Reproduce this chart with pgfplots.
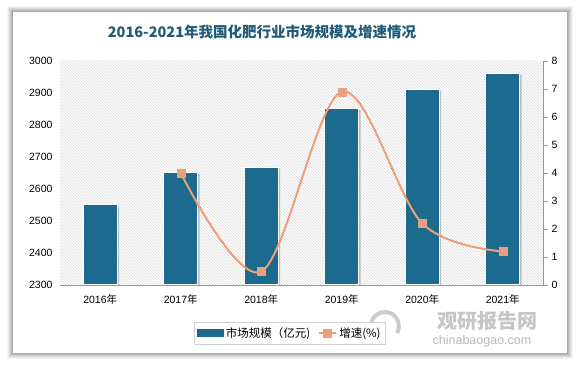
\documentclass[border=0pt]{standalone}
\usepackage{pgfplots}
\pgfplotsset{compat=1.18}
\usepackage{fontspec}
\setmainfont{Liberation Sans}
\newfontfamily\cjk{Noto Sans CJK SC}
\usetikzlibrary{patterns}
\definecolor{barc}{HTML}{1C6B8E}
\definecolor{linec}{HTML}{EE9E78}
\definecolor{markc}{HTML}{E9A07F}
\definecolor{titlec}{HTML}{1F5A78}
\newcommand\nian{{\cjk 年}}
\begin{document}
\begin{tikzpicture}[x=1pt,y=1pt]
\useasboundingbox (0,0) rectangle (582,366);
\fill[white] (0,0) rectangle (582,366);
% soft shadow of card
\foreach \d/\o in {6/0.04,5/0.05,4/0.06,3/0.07,2/0.08,1/0.09}{
  \fill[black,opacity=\o] (13-\d,13-\d) rectangle (567+\d,354+\d);
}
\fill[white] (13,13) rectangle (567,354);
\node[font=\cjk\bfseries\fontsize{14.5}{17}\selectfont, text=titlec] at (262,334) {2016-2021年我国化肥行业市场规模及增速情况};
% watermark
\node[font=\cjk\bfseries\fontsize{20}{22}\selectfont, text=gray!45] at (487,45) {观研报告网};
\node[font=\fontsize{12.5}{14}\selectfont, text=gray!55] at (482,25) {chinabaogao.com};
\draw[gray!40, line width=4pt] (397,33) arc (-30:200:14);

\begin{axis}[
  at={(60pt,81pt)}, anchor=south west,
  width=483pt, height=224pt, scale only axis,
  xmin=-0.5, xmax=5.5, ymin=2300, ymax=3000,
  xtick={0,1,2,3,4,5},
  xticklabels={2016\nian,2017\nian,2018\nian,2019\nian,2020\nian,2021\nian},
  ytick={2300,2400,...,3000},
  axis x line*=bottom, axis y line*=left,
  y axis line style={draw=none},
  x axis line style={draw=gray!80, line width=0.8pt, -},
  major tick style={draw=none},
  xticklabel style={font=\fontsize{10.5}{12}\selectfont, yshift=-6pt},
  yticklabel style={font=\fontsize{10.5}{12}\selectfont, xshift=-4pt},
  /pgf/number format/1000 sep={},
  /pgf/number format/assume math mode=true,
  axis background/.style={pattern=north west lines, pattern color=gray!28},
]
\addplot[ybar, bar width=34pt, bar shift=0pt, fill=black, opacity=0.22, draw=none, xshift=2pt, yshift=-1.5pt]
  coordinates {(0,2550) (1,2653) (2,2668) (3,2853) (4,2912) (5,2962)};
\addplot[ybar, bar width=34pt, bar shift=0pt, fill=barc, draw=white, line width=1pt]
  coordinates {(0,2550) (1,2653) (2,2668) (3,2853) (4,2912) (5,2962)};
\end{axis}

\begin{axis}[
  at={(60pt,81pt)}, anchor=south west,
  width=483pt, height=224pt, scale only axis,
  xmin=-0.5, xmax=5.5, ymin=0, ymax=8,
  axis x line=none,
  axis y line*=right,
  y axis line style={draw=gray!80, line width=0.8pt, -},
  ytick={0,1,...,8},
  tick align=outside, major tick length=5pt,
  ytick style={draw=gray!80, line width=0.8pt},
  yticklabel style={font=\fontsize{10.5}{12}\selectfont},
  /pgf/number format/assume math mode=true,
  legend style={at={(0.476,-0.215)}, anchor=center, draw=gray!35, line width=0.6pt,
    font=\cjk\fontsize{11.5}{13}\selectfont, legend columns=2,
    /tikz/every even column/.append style={column sep=6pt}, inner sep=3pt},
]
\addlegendimage{legend image code/.code={\fill[barc] (0pt,-3.5pt) rectangle (26pt,3.5pt);}}
\addlegendentry{市场规模（亿元)}
\addplot[linec, line width=2pt, smooth, tension=0.55, mark=square*, mark size=4pt,
  mark options={fill=markc, draw=markc, line width=0.5pt}]
  coordinates {(1,4.0) (2,0.48) (3,6.9) (4,2.2) (5,1.2)};
\addlegendentry{增速(\%)}
\end{axis}
\end{tikzpicture}
\end{document}
